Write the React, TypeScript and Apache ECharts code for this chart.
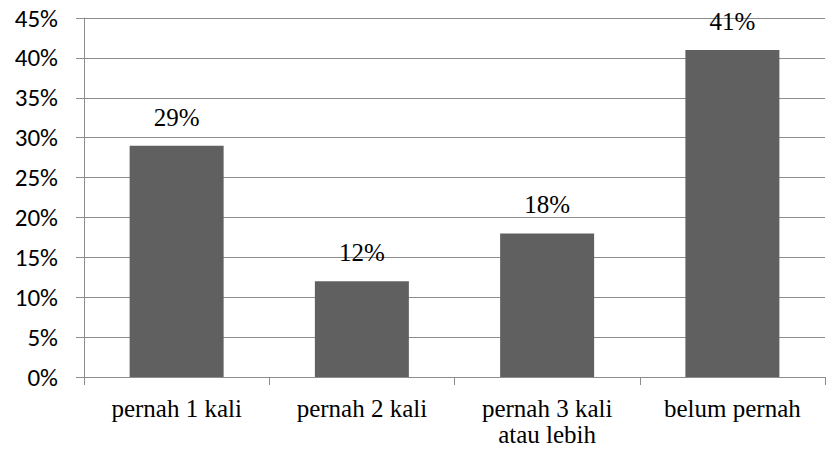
import React, { useEffect, useRef } from "react";
import * as echarts from "echarts";

const categories = ["pernah 1 kali", "pernah 2 kali", "pernah 3 kali\natau lebih", "belum pernah"];
const values = [29, 12, 18, 41];
const yTicks = { min: 0, max: 45, interval: 5 };

const SERIF = "Liberation Serif";

export default function App() {
  const ref = useRef<HTMLDivElement>(null);
  useEffect(() => {
    document.body.style.margin = "0";
    const chart = echarts.init(ref.current!, null, { renderer: "svg" });
    const gray = "#8c8c8c";
    chart.setOption({
      animation: false,
      backgroundColor: "#ffffff",
      grid: { left: 84, right: 1, top: 18, bottom: 74 },
      xAxis: {
        type: "category",
        data: categories,
        axisLine: { show: true, lineStyle: { color: gray, width: 1 } },
        axisTick: { show: true, length: 8, alignWithLabel: false, lineStyle: { color: gray } },
        axisLabel: {
          color: "#000",
          fontFamily: SERIF,
          fontSize: 25,
          lineHeight: 26,
          margin: 18,
          interval: 0,
        },
      },
      yAxis: {
        type: "value",
        min: yTicks.min,
        max: yTicks.max,
        interval: yTicks.interval,
        axisLine: { show: true, lineStyle: { color: gray, width: 1 } },
        axisTick: { show: true, length: 8, lineStyle: { color: gray } },
        splitLine: { show: true, lineStyle: { color: gray, width: 1 } },
        axisLabel: {
          formatter: "{value}%",
          color: "#000",
          fontFamily: "Carlito",
          fontSize: 25,
          margin: 26,
        },
      },
      series: [
        {
          type: "bar",
          data: values,
          barWidth: 94,
          itemStyle: { color: "#606060" },
          label: {
            show: true,
            position: "top",
            distance: 16,
            formatter: "{c}%",
            color: "#000",
            fontFamily: SERIF,
            fontSize: 25,
          },
        },
      ],
    });
    return () => chart.dispose();
  }, []);
  return <div ref={ref} style={{ width: 826, height: 451, position: "absolute", left: 0, top: 0 }} />;
}
